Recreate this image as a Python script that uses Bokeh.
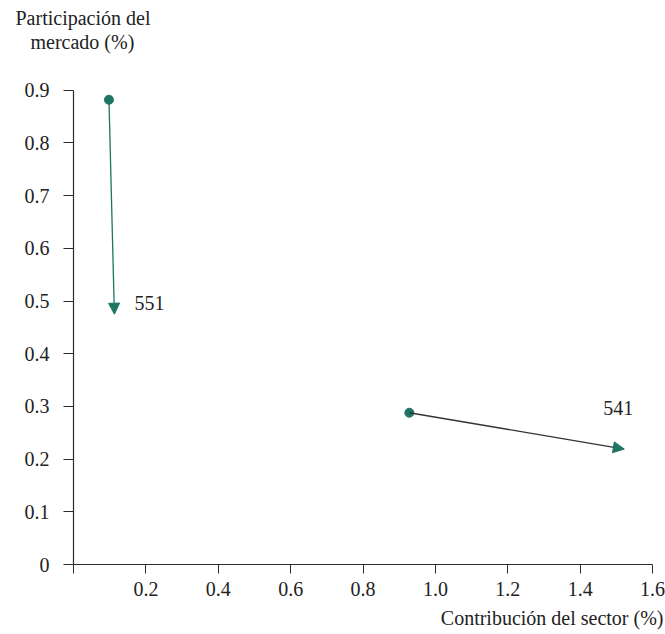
from bokeh.plotting import figure
from bokeh.models import Range1d, FixedTicker, Arrow, NormalHead, Label, ColumnDataSource, Title
from bokeh.embed import file_html
from bokeh.resources import INLINE

# ---- data ----
sector = ["551", "541"]
x_start = [0.098, 0.928]
y_start = [0.882, 0.288]
x_end = [0.113, 1.522]
y_end = [0.475, 0.219]
x_ticks = [0, 0.2, 0.4, 0.6, 0.8, 1.0, 1.2, 1.4, 1.6]
x_tick_labels = ["", "0.2", "0.4", "0.6", "0.8", "1.0", "1.2", "1.4", "1.6"]
y_ticks = [0, 0.1, 0.2, 0.3, 0.4, 0.5, 0.6, 0.7, 0.8, 0.9]
y_tick_labels = ["0", "0.1", "0.2", "0.3", "0.4", "0.5", "0.6", "0.7", "0.8", "0.9"]
y_title = ["Participación del", "mercado (%)"]
x_title = "Contribución del sector (%)"

FONT = "Liberation Serif"
FS = "20px"
TEAL = "#1f7564"
AXIS = "#2b2b2b"
TXT = "#222222"

p = figure(width=665, height=634, output_backend="svg", toolbar_location=None,
           x_range=Range1d(0, 1.6), y_range=Range1d(0, 0.9717),
           min_border_left=73, min_border_right=13, min_border_top=52, min_border_bottom=67)
p.title.visible = False
p.outline_line_color = None
p.grid.visible = False
p.background_fill_color = "white"
p.border_fill_color = "white"

for ax in (p.xaxis[0], p.yaxis[0]):
    ax.axis_line_color = AXIS
    ax.axis_line_width = 1.2
    ax.major_tick_line_color = AXIS
    ax.minor_tick_line_color = None
    ax.major_tick_in = 0
    ax.major_label_text_font = FONT
    ax.major_label_text_font_size = FS
    ax.major_label_text_color = TXT

p.xaxis.ticker = FixedTicker(ticks=x_ticks)
p.xaxis.major_label_overrides = {t: l for t, l in zip(x_ticks, x_tick_labels)}
p.xaxis.major_tick_out = 9
p.xaxis.major_label_standoff = 8

p.yaxis.ticker = FixedTicker(ticks=y_ticks)
p.yaxis.major_label_overrides = {t: l for t, l in zip(y_ticks, y_tick_labels)}
p.yaxis.major_tick_out = 10
p.yaxis.major_label_standoff = 14
p.yaxis.bounds = (y_ticks[0], y_ticks[-1])

# arrows
line_colors = [TEAL, "#333333"]
for i in range(len(sector)):
    p.add_layout(Arrow(end=NormalHead(size=11, fill_color=TEAL, line_color=TEAL, line_width=1),
                       x_start=x_start[i], y_start=y_start[i], x_end=x_end[i], y_end=y_end[i],
                       line_color=line_colors[i], line_width=1.3))

src = ColumnDataSource(dict(x=x_start, y=y_start))
p.scatter("x", "y", source=src, size=9, color=TEAL)

# sector labels
p.add_layout(Label(x=x_end[0], y=y_end[0], text=sector[0], x_offset=20, y_offset=11,
                   text_align="left", text_baseline="middle",
                   text_font=FONT, text_font_size=FS, text_color=TXT))
p.add_layout(Label(x=x_end[1], y=y_end[1], text=sector[1], x_offset=-21, y_offset=41,
                   text_align="left", text_baseline="middle",
                   text_font=FONT, text_font_size=FS, text_color=TXT))

# axis titles (as plot titles in the side panels)
t2 = Title(text=y_title[1], align="left", offset=-43, standoff=0,
           text_font=FONT, text_font_size=FS, text_font_style="normal", text_color=TXT)
t1 = Title(text=y_title[0], align="left", offset=-58, standoff=0,
           text_font=FONT, text_font_size=FS, text_font_style="normal", text_color=TXT)
p.add_layout(t2, "above")
p.add_layout(t1, "above")
tx = Title(text=x_title, align="right", offset=-11, standoff=12,
           text_font=FONT, text_font_size=FS, text_font_style="normal", text_color=TXT)
p.add_layout(tx, "below")

open("out.html", "w").write(file_html(p, INLINE))
